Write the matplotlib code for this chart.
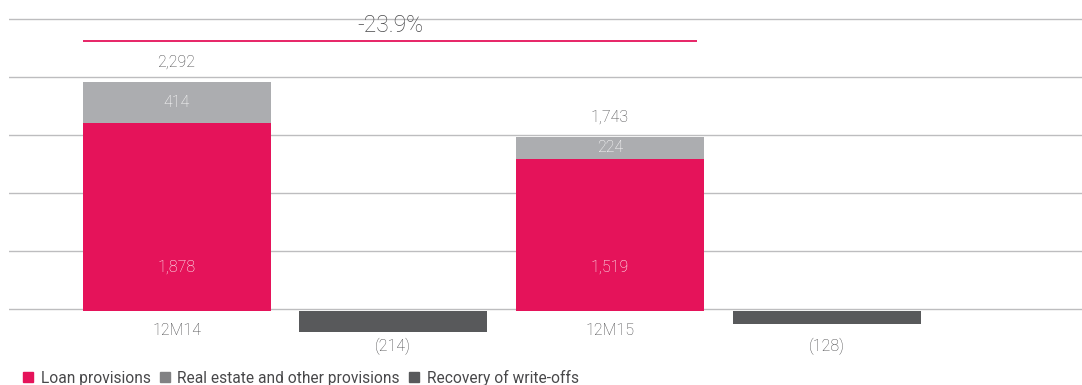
import matplotlib.pyplot as plt
from matplotlib.patches import Patch
import numpy as np

plt.rcParams['font.family'] = ['Roboto', 'DejaVu Sans']

# provisions by period (EUR mn)
periods = ['12M14', '12M15']
loan_prov = [1878, 1519]
real_estate_prov = [414, 224]
recovery = [-214, -128]
change_label = '-23.9%'
legend_labels = ['Loan provisions', 'Real estate and other provisions', 'Recovery of write-offs']
grid_y = [17, 597, 1177, 1757, 2337, 2917]

pink = '#E5135A'
light_grey = '#ACADB0'
mid_grey = '#818183'
dark_grey = '#58595B'
text_col = '#48484A'

fig = plt.figure(figsize=(10.82, 3.85), dpi=100)
ax = fig.add_axes([8.6 / 1082, 0, 1 - 8.6 / 1082, 1])
ax.set_xlim(-0.775, 4.179)
ax.set_ylim(-740, 3110)
ax.axis('off')

for g in grid_y:
    ax.axhline(g, color='#BDBDBF', lw=1.0, zorder=0)

w = 0.8676
x_stack = np.array([0, 2])
x_rec = x_stack + 1
totals = np.array(loan_prov) + np.array(real_estate_prov)

ax.bar(x_stack, loan_prov, w, color=pink, zorder=2)
ax.bar(x_stack, real_estate_prov, w, bottom=loan_prov, color=light_grey, zorder=2)
ax.bar(x_rec, recovery, w, color=dark_grey, zorder=2)

lt = dict(fontweight='light', ha='center', va='center')
for i, x in enumerate(x_stack):
    ax.annotate(f'{loan_prov[i]:,}', (x, 0), xytext=(0, 31.7), textcoords='offset points',
                color='white', fontsize=11.5, **lt)
    ax.text(x, loan_prov[i] + real_estate_prov[i] / 2, f'{real_estate_prov[i]:,}',
            color='white', fontsize=11.5, **lt)
    ax.annotate(f'{totals[i]:,}', (x, totals[i]), xytext=(0, 14), textcoords='offset points',
                color=text_col, fontsize=11.5, **lt)
    ax.annotate(periods[i], (x, 0), xytext=(0, -13.7), textcoords='offset points',
                color=text_col, fontsize=11.5, **lt)
for i, x in enumerate(x_rec):
    ax.annotate(f'({-recovery[i]:,})', (x, 0), xytext=(0, -25.7), textcoords='offset points',
                color=text_col, fontsize=11.5, **lt)

# change bracket between the two totals
x0, x1 = x_stack[0] - w / 2, x_stack[1] + w / 2 - 0.03
ax.plot([x0, x1], [2703, 2703], color=pink, lw=1.3, zorder=3, solid_capstyle='butt')
ax.text((x0 + x1) / 2, 2860, change_label, color=text_col, fontsize=16.5, **lt)

handles = [Patch(color=c) for c in (pink, mid_grey, dark_grey)]
fig.legend(handles, legend_labels, loc='center left', bbox_to_anchor=(23 / 1082, 1 - 377.7 / 385),
           ncol=3, frameon=False, fontsize=11.2, borderpad=0, borderaxespad=0,
           handlelength=0.63, handleheight=0.63, handletextpad=0.5, columnspacing=0.6,
           labelcolor=text_col)

fig.savefig('out.png', dpi=100)
